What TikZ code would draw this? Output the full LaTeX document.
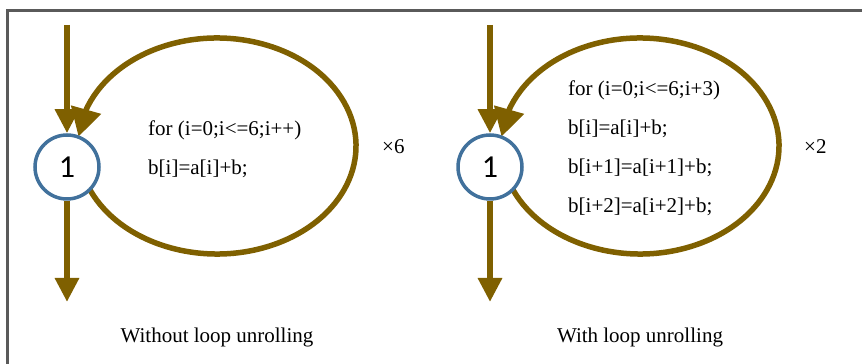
\documentclass[tikz,border=0pt]{standalone}
\usepackage{fontspec}
\setmainfont{Liberation Serif}
\newfontfamily\digitfont{Carlito}
\usetikzlibrary{arrows.meta,bending}
\definecolor{loopbrown}{RGB}{127,96,0}
\definecolor{nodeblue}{RGB}{65,113,156}
\definecolor{framegray}{RGB}{90,90,90}

\begin{document}
\begin{tikzpicture}[x=1pt,y=1pt,
   flow/.style={loopbrown,line width=6.5pt,-{Triangle[width=23pt,length=24pt]}},
   back/.style={loopbrown,line width=5.5pt,-{Triangle[width=30pt,length=28pt,flex]}},
   state/.style={circle,draw=nodeblue,line width=3.5pt,fill=white,minimum size=64pt,
                 inner sep=0pt,font=\digitfont\fontsize{32}{36}\selectfont},
   code/.style={anchor=base west,inner sep=0pt,font=\fontsize{21}{24}\selectfont},
   caption/.style={anchor=base,inner sep=0pt,font=\fontsize{21}{24}\selectfont}]
   \useasboundingbox (0,0) rectangle (862,364);
   \draw[framegray,line width=2.2pt] (7.5,0) -- (7.5,353.5) -- (862,353.5);
   % the two loops, 423pt apart
   \foreach \x/\n in {0/a,423/b} {
     \coordinate (in\n) at (67+\x,339);
     \coordinate (out\n) at (67+\x,62);
     \coordinate (loop\n) at (217+\x,218);
     \draw[back] (loop\n) ++(204:139pt and 108pt)
        arc[start angle=204,end angle=535,x radius=139pt,y radius=108pt];
     \node[state] (s\n) at (67+\x,197) {1};
     \draw[flow] (in\n) -- (s\n);
     \draw[flow] (s\n) -- (out\n);
   }
   % without unrolling
   \node[code] (fora) at (148,228) {for (i=0;i<=6;i++)};
   \node[code] (bodya) at (148,189) {b[i]=a[i]+b;};
   \node[code] (timesa) at (382,210) {×6};
   \node[caption] (capa) at (217,21) {Without loop unrolling};
   % with unrolling
   \node[code] (forb) at (568,268) {for (i=0;i<=6;i+3)};
   \foreach \y/\t in {229/{b[i]=a[i]+b;},
                      190/{b[i+1]=a[i+1]+b;},
                      151/{b[i+2]=a[i+2]+b;}}
     \node[code] at (568,\y) {\t};
   \node[code] (timesb) at (804,210) {×2};
   \node[caption] (capb) at (640,21) {With loop unrolling};
\end{tikzpicture}
\end{document}
